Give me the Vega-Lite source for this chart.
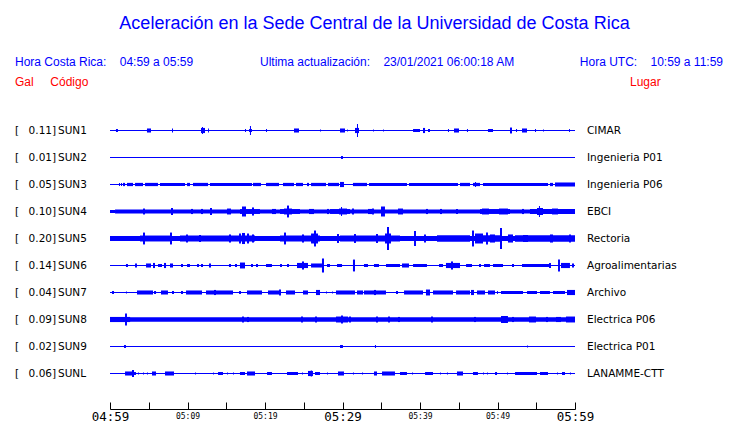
{
  "$schema": "https://vega.github.io/schema/vega-lite/v6.json",
  "width": 465,
  "height": 270,
  "autosize": {"type": "none"},
  "padding": {"left": 110, "top": 117, "right": 165, "bottom": 36},
  "background": "white",
  "config": {"view": {"stroke": null}},
  "title": {
    "text": "Aceleración en la Sede Central de la Universidad de Costa Rica",
    "font": "Liberation Sans", "fontSize": 18, "fontWeight": "normal", "color": "#0000ff",
    "anchor": "middle", "frame": "group", "dx": 32, "offset": 22
  },
  "datasets": {
    "meta": [
      {"s": "SUN1", "gal": 0.11, "lugar": "CIMAR"},
      {"s": "SUN2", "gal": 0.01, "lugar": "Ingenieria P01"},
      {"s": "SUN3", "gal": 0.05, "lugar": "Ingenieria P06"},
      {"s": "SUN4", "gal": 0.10, "lugar": "EBCI"},
      {"s": "SUN5", "gal": 0.20, "lugar": "Rectoria"},
      {"s": "SUN6", "gal": 0.14, "lugar": "Agroalimentarias"},
      {"s": "SUN7", "gal": 0.04, "lugar": "Archivo"},
      {"s": "SUN8", "gal": 0.09, "lugar": "Electrica P06"},
      {"s": "SUN9", "gal": 0.02, "lugar": "Electrica P01"},
      {"s": "SUNL", "gal": 0.06, "lugar": "LANAMME-CTT"}
    ],
    "bursts": [
      {"s":"SUN1","t1":0.77,"t2":1.03,"a":0.11},
      {"s":"SUN1","t1":4.77,"t2":5.29,"a":0.15},
      {"s":"SUN1","t1":8.0,"t2":8.13,"a":0.15},
      {"s":"SUN1","t1":11.74,"t2":12.26,"a":0.19},
      {"s":"SUN1","t1":11.87,"t2":12.0,"a":0.26},
      {"s":"SUN1","t1":12.65,"t2":12.77,"a":0.15},
      {"s":"SUN1","t1":17.42,"t2":17.55,"a":0.11},
      {"s":"SUN1","t1":17.94,"t2":18.32,"a":0.11},
      {"s":"SUN1","t1":18.06,"t2":18.19,"a":0.33},
      {"s":"SUN1","t1":20.13,"t2":20.26,"a":0.11},
      {"s":"SUN1","t1":23.74,"t2":24.39,"a":0.15},
      {"s":"SUN1","t1":27.1,"t2":27.23,"a":0.07},
      {"s":"SUN1","t1":29.68,"t2":30.32,"a":0.15},
      {"s":"SUN1","t1":30.58,"t2":30.71,"a":0.07},
      {"s":"SUN1","t1":31.61,"t2":32.13,"a":0.19},
      {"s":"SUN1","t1":31.87,"t2":32.0,"a":0.48},
      {"s":"SUN1","t1":33.94,"t2":34.06,"a":0.07},
      {"s":"SUN1","t1":35.23,"t2":35.35,"a":0.07},
      {"s":"SUN1","t1":39.1,"t2":40.0,"a":0.11},
      {"s":"SUN1","t1":40.39,"t2":40.65,"a":0.19},
      {"s":"SUN1","t1":41.03,"t2":41.29,"a":0.11},
      {"s":"SUN1","t1":43.61,"t2":43.74,"a":0.11},
      {"s":"SUN1","t1":44.39,"t2":45.03,"a":0.15},
      {"s":"SUN1","t1":46.06,"t2":46.19,"a":0.11},
      {"s":"SUN1","t1":48.77,"t2":49.42,"a":0.11},
      {"s":"SUN1","t1":51.61,"t2":51.87,"a":0.22},
      {"s":"SUN1","t1":52.39,"t2":52.52,"a":0.11},
      {"s":"SUN1","t1":53.16,"t2":53.81,"a":0.15},
      {"s":"SUN1","t1":54.84,"t2":54.97,"a":0.11},
      {"s":"SUN1","t1":55.87,"t2":56.0,"a":0.07},
      {"s":"SUN1","t1":59.23,"t2":59.35,"a":0.11},
      {"s":"SUN2","t1":29.81,"t2":30.06,"a":0.11},
      {"s":"SUN3","t1":1.16,"t2":1.29,"a":0.12},
      {"s":"SUN3","t1":1.42,"t2":1.55,"a":0.12},
      {"s":"SUN3","t1":1.68,"t2":1.94,"a":0.12},
      {"s":"SUN3","t1":2.19,"t2":2.97,"a":0.12},
      {"s":"SUN3","t1":3.23,"t2":4.26,"a":0.12},
      {"s":"SUN3","t1":4.52,"t2":6.19,"a":0.12},
      {"s":"SUN3","t1":6.45,"t2":9.68,"a":0.12},
      {"s":"SUN3","t1":9.94,"t2":10.32,"a":0.12},
      {"s":"SUN3","t1":10.71,"t2":12.65,"a":0.12},
      {"s":"SUN3","t1":12.9,"t2":18.32,"a":0.12},
      {"s":"SUN3","t1":18.45,"t2":19.48,"a":0.12},
      {"s":"SUN3","t1":20.13,"t2":21.81,"a":0.12},
      {"s":"SUN3","t1":22.32,"t2":23.74,"a":0.12},
      {"s":"SUN3","t1":24.0,"t2":24.9,"a":0.12},
      {"s":"SUN3","t1":25.42,"t2":25.68,"a":0.12},
      {"s":"SUN3","t1":25.94,"t2":27.87,"a":0.12},
      {"s":"SUN3","t1":28.13,"t2":29.55,"a":0.12},
      {"s":"SUN3","t1":29.68,"t2":30.19,"a":0.19},
      {"s":"SUN3","t1":31.35,"t2":33.16,"a":0.12},
      {"s":"SUN3","t1":33.42,"t2":38.32,"a":0.12},
      {"s":"SUN3","t1":38.58,"t2":44.9,"a":0.12},
      {"s":"SUN3","t1":45.16,"t2":46.45,"a":0.12},
      {"s":"SUN3","t1":46.84,"t2":47.74,"a":0.12},
      {"s":"SUN3","t1":47.1,"t2":47.23,"a":0.19},
      {"s":"SUN3","t1":48.13,"t2":56.52,"a":0.12},
      {"s":"SUN3","t1":56.77,"t2":57.16,"a":0.12},
      {"s":"SUN3","t1":57.42,"t2":60,"a":0.15},
      {"s":"SUN4","t1":0,"t2":0.65,"a":0.11},
      {"s":"SUN4","t1":0.65,"t2":60,"a":0.15},
      {"s":"SUN4","t1":16.77,"t2":19.35,"a":0.18},
      {"s":"SUN4","t1":21.94,"t2":24.52,"a":0.18},
      {"s":"SUN4","t1":28.39,"t2":30.97,"a":0.18},
      {"s":"SUN4","t1":47.74,"t2":51.61,"a":0.18},
      {"s":"SUN4","t1":54.19,"t2":60,"a":0.18},
      {"s":"SUN4","t1":4.26,"t2":4.52,"a":0.22},
      {"s":"SUN4","t1":7.87,"t2":8.13,"a":0.26},
      {"s":"SUN4","t1":10.45,"t2":10.71,"a":0.19},
      {"s":"SUN4","t1":11.74,"t2":12.0,"a":0.19},
      {"s":"SUN4","t1":12.9,"t2":13.16,"a":0.26},
      {"s":"SUN4","t1":15.1,"t2":15.61,"a":0.22},
      {"s":"SUN4","t1":17.03,"t2":17.55,"a":0.37},
      {"s":"SUN4","t1":18.32,"t2":18.58,"a":0.3},
      {"s":"SUN4","t1":20.9,"t2":21.42,"a":0.19},
      {"s":"SUN4","t1":22.45,"t2":23.48,"a":0.22},
      {"s":"SUN4","t1":22.84,"t2":23.1,"a":0.44},
      {"s":"SUN4","t1":25.68,"t2":26.32,"a":0.19},
      {"s":"SUN4","t1":28.0,"t2":28.26,"a":0.19},
      {"s":"SUN4","t1":29.55,"t2":30.58,"a":0.22},
      {"s":"SUN4","t1":29.81,"t2":29.94,"a":0.33},
      {"s":"SUN4","t1":31.23,"t2":31.48,"a":0.22},
      {"s":"SUN4","t1":33.29,"t2":33.81,"a":0.19},
      {"s":"SUN4","t1":33.81,"t2":34.06,"a":0.22},
      {"s":"SUN4","t1":34.97,"t2":35.48,"a":0.37},
      {"s":"SUN4","t1":37.16,"t2":37.81,"a":0.22},
      {"s":"SUN4","t1":40.77,"t2":41.03,"a":0.19},
      {"s":"SUN4","t1":42.58,"t2":42.84,"a":0.19},
      {"s":"SUN4","t1":44.65,"t2":44.9,"a":0.19},
      {"s":"SUN4","t1":48.0,"t2":48.9,"a":0.22},
      {"s":"SUN4","t1":50.19,"t2":51.35,"a":0.22},
      {"s":"SUN4","t1":53.16,"t2":53.42,"a":0.19},
      {"s":"SUN4","t1":55.1,"t2":55.87,"a":0.26},
      {"s":"SUN4","t1":55.35,"t2":55.48,"a":0.41},
      {"s":"SUN4","t1":57.03,"t2":57.81,"a":0.22},
      {"s":"SUN4","t1":59.23,"t2":59.48,"a":0.19},
      {"s":"SUN5","t1":0,"t2":60,"a":0.18},
      {"s":"SUN5","t1":3.87,"t2":7.74,"a":0.22},
      {"s":"SUN5","t1":9.03,"t2":18.71,"a":0.22},
      {"s":"SUN5","t1":21.94,"t2":27.1,"a":0.22},
      {"s":"SUN5","t1":29.68,"t2":37.42,"a":0.22},
      {"s":"SUN5","t1":42.19,"t2":46.45,"a":0.24},
      {"s":"SUN5","t1":47.1,"t2":50.32,"a":0.24},
      {"s":"SUN5","t1":52.26,"t2":60,"a":0.24},
      {"s":"SUN5","t1":4.26,"t2":4.52,"a":0.44},
      {"s":"SUN5","t1":7.74,"t2":8.0,"a":0.44},
      {"s":"SUN5","t1":9.81,"t2":10.06,"a":0.3},
      {"s":"SUN5","t1":11.48,"t2":11.74,"a":0.26},
      {"s":"SUN5","t1":15.35,"t2":15.61,"a":0.3},
      {"s":"SUN5","t1":16.65,"t2":16.9,"a":0.37},
      {"s":"SUN5","t1":17.03,"t2":17.42,"a":0.41},
      {"s":"SUN5","t1":17.68,"t2":17.94,"a":0.37},
      {"s":"SUN5","t1":18.32,"t2":18.58,"a":0.3},
      {"s":"SUN5","t1":22.45,"t2":22.71,"a":0.44},
      {"s":"SUN5","t1":24.77,"t2":25.03,"a":0.3},
      {"s":"SUN5","t1":25.94,"t2":26.84,"a":0.37},
      {"s":"SUN5","t1":26.32,"t2":26.58,"a":0.59},
      {"s":"SUN5","t1":29.29,"t2":29.55,"a":0.33},
      {"s":"SUN5","t1":31.48,"t2":31.74,"a":0.33},
      {"s":"SUN5","t1":34.32,"t2":34.58,"a":0.33},
      {"s":"SUN5","t1":35.48,"t2":36.26,"a":0.37},
      {"s":"SUN5","t1":35.74,"t2":36.0,"a":0.85},
      {"s":"SUN5","t1":39.23,"t2":39.48,"a":0.56},
      {"s":"SUN5","t1":40.52,"t2":40.77,"a":0.3},
      {"s":"SUN5","t1":46.71,"t2":46.97,"a":0.59},
      {"s":"SUN5","t1":47.1,"t2":48.13,"a":0.37},
      {"s":"SUN5","t1":48.52,"t2":48.77,"a":0.44},
      {"s":"SUN5","t1":49.03,"t2":49.68,"a":0.3},
      {"s":"SUN5","t1":50.32,"t2":50.58,"a":0.78},
      {"s":"SUN5","t1":51.35,"t2":52.0,"a":0.3},
      {"s":"SUN5","t1":53.29,"t2":53.94,"a":0.26},
      {"s":"SUN5","t1":56.77,"t2":57.16,"a":0.3},
      {"s":"SUN5","t1":59.23,"t2":59.48,"a":0.3},
      {"s":"SUN6","t1":2.06,"t2":2.32,"a":0.11},
      {"s":"SUN6","t1":3.23,"t2":3.48,"a":0.15},
      {"s":"SUN6","t1":4.65,"t2":5.29,"a":0.15},
      {"s":"SUN6","t1":5.55,"t2":5.81,"a":0.19},
      {"s":"SUN6","t1":6.19,"t2":6.71,"a":0.11},
      {"s":"SUN6","t1":6.97,"t2":7.23,"a":0.19},
      {"s":"SUN6","t1":7.74,"t2":8.13,"a":0.15},
      {"s":"SUN6","t1":9.16,"t2":9.42,"a":0.11},
      {"s":"SUN6","t1":9.94,"t2":10.32,"a":0.11},
      {"s":"SUN6","t1":11.23,"t2":11.48,"a":0.11},
      {"s":"SUN6","t1":11.74,"t2":12.0,"a":0.11},
      {"s":"SUN6","t1":12.77,"t2":13.03,"a":0.15},
      {"s":"SUN6","t1":15.35,"t2":15.61,"a":0.11},
      {"s":"SUN6","t1":16.13,"t2":16.39,"a":0.11},
      {"s":"SUN6","t1":16.77,"t2":17.42,"a":0.22},
      {"s":"SUN6","t1":18.19,"t2":18.45,"a":0.11},
      {"s":"SUN6","t1":18.84,"t2":19.1,"a":0.11},
      {"s":"SUN6","t1":20.13,"t2":20.9,"a":0.11},
      {"s":"SUN6","t1":21.94,"t2":22.19,"a":0.11},
      {"s":"SUN6","t1":22.84,"t2":23.1,"a":0.11},
      {"s":"SUN6","t1":24.13,"t2":25.55,"a":0.19},
      {"s":"SUN6","t1":24.77,"t2":25.03,"a":0.3},
      {"s":"SUN6","t1":25.94,"t2":27.35,"a":0.15},
      {"s":"SUN6","t1":27.35,"t2":27.61,"a":0.52},
      {"s":"SUN6","t1":28.0,"t2":28.39,"a":0.11},
      {"s":"SUN6","t1":29.29,"t2":29.94,"a":0.11},
      {"s":"SUN6","t1":31.35,"t2":31.61,"a":0.44},
      {"s":"SUN6","t1":32.77,"t2":33.29,"a":0.11},
      {"s":"SUN6","t1":34.06,"t2":34.71,"a":0.11},
      {"s":"SUN6","t1":35.61,"t2":37.42,"a":0.11},
      {"s":"SUN6","t1":37.68,"t2":38.58,"a":0.15},
      {"s":"SUN6","t1":39.1,"t2":40.9,"a":0.11},
      {"s":"SUN6","t1":42.45,"t2":42.97,"a":0.11},
      {"s":"SUN6","t1":43.35,"t2":45.16,"a":0.19},
      {"s":"SUN6","t1":44.0,"t2":44.26,"a":0.3},
      {"s":"SUN6","t1":45.94,"t2":46.71,"a":0.11},
      {"s":"SUN6","t1":47.61,"t2":47.87,"a":0.11},
      {"s":"SUN6","t1":48.26,"t2":49.03,"a":0.11},
      {"s":"SUN6","t1":49.42,"t2":50.71,"a":0.11},
      {"s":"SUN6","t1":51.87,"t2":52.13,"a":0.11},
      {"s":"SUN6","t1":53.16,"t2":56.77,"a":0.11},
      {"s":"SUN6","t1":56.65,"t2":56.9,"a":0.19},
      {"s":"SUN6","t1":57.81,"t2":58.06,"a":0.44},
      {"s":"SUN6","t1":58.19,"t2":59.35,"a":0.19},
      {"s":"SUN6","t1":59.61,"t2":59.87,"a":0.15},
      {"s":"SUN7","t1":0.26,"t2":0.52,"a":0.11},
      {"s":"SUN7","t1":2.06,"t2":2.19,"a":0.07},
      {"s":"SUN7","t1":3.48,"t2":5.55,"a":0.15},
      {"s":"SUN7","t1":5.68,"t2":5.94,"a":0.11},
      {"s":"SUN7","t1":6.58,"t2":7.48,"a":0.15},
      {"s":"SUN7","t1":8.0,"t2":8.26,"a":0.11},
      {"s":"SUN7","t1":9.16,"t2":9.42,"a":0.11},
      {"s":"SUN7","t1":9.81,"t2":11.87,"a":0.15},
      {"s":"SUN7","t1":12.39,"t2":15.87,"a":0.15},
      {"s":"SUN7","t1":13.42,"t2":13.68,"a":0.19},
      {"s":"SUN7","t1":16.65,"t2":16.9,"a":0.11},
      {"s":"SUN7","t1":17.68,"t2":19.61,"a":0.15},
      {"s":"SUN7","t1":20.39,"t2":22.06,"a":0.15},
      {"s":"SUN7","t1":21.81,"t2":22.06,"a":0.22},
      {"s":"SUN7","t1":22.71,"t2":23.87,"a":0.15},
      {"s":"SUN7","t1":24.9,"t2":25.55,"a":0.15},
      {"s":"SUN7","t1":26.58,"t2":27.1,"a":0.19},
      {"s":"SUN7","t1":27.87,"t2":28.0,"a":0.07},
      {"s":"SUN7","t1":28.65,"t2":28.77,"a":0.07},
      {"s":"SUN7","t1":29.16,"t2":31.61,"a":0.15},
      {"s":"SUN7","t1":31.87,"t2":32.65,"a":0.15},
      {"s":"SUN7","t1":32.77,"t2":35.61,"a":0.15},
      {"s":"SUN7","t1":34.06,"t2":34.32,"a":0.19},
      {"s":"SUN7","t1":36.9,"t2":37.16,"a":0.11},
      {"s":"SUN7","t1":37.94,"t2":40.39,"a":0.15},
      {"s":"SUN7","t1":40.77,"t2":41.29,"a":0.22},
      {"s":"SUN7","t1":41.68,"t2":44.26,"a":0.15},
      {"s":"SUN7","t1":44.65,"t2":46.45,"a":0.15},
      {"s":"SUN7","t1":46.58,"t2":46.97,"a":0.19},
      {"s":"SUN7","t1":47.35,"t2":48.39,"a":0.15},
      {"s":"SUN7","t1":48.77,"t2":49.68,"a":0.15},
      {"s":"SUN7","t1":49.94,"t2":50.06,"a":0.11},
      {"s":"SUN7","t1":50.45,"t2":53.29,"a":0.11},
      {"s":"SUN7","t1":53.81,"t2":55.1,"a":0.11},
      {"s":"SUN7","t1":55.48,"t2":56.77,"a":0.11},
      {"s":"SUN7","t1":57.16,"t2":58.71,"a":0.11},
      {"s":"SUN7","t1":58.97,"t2":60,"a":0.19},
      {"s":"SUN8","t1":0,"t2":60,"a":0.17},
      {"s":"SUN8","t1":0,"t2":2.6,"a":0.19},
      {"s":"SUN8","t1":1.94,"t2":2.19,"a":0.44},
      {"s":"SUN8","t1":17.03,"t2":17.29,"a":0.22},
      {"s":"SUN8","t1":17.68,"t2":17.94,"a":0.19},
      {"s":"SUN8","t1":24.65,"t2":24.9,"a":0.22},
      {"s":"SUN8","t1":26.45,"t2":26.71,"a":0.22},
      {"s":"SUN8","t1":29.16,"t2":30.71,"a":0.22},
      {"s":"SUN8","t1":29.81,"t2":30.06,"a":0.3},
      {"s":"SUN8","t1":30.84,"t2":31.1,"a":0.22},
      {"s":"SUN8","t1":34.32,"t2":34.58,"a":0.22},
      {"s":"SUN8","t1":35.87,"t2":36.13,"a":0.22},
      {"s":"SUN8","t1":37.16,"t2":37.42,"a":0.19},
      {"s":"SUN8","t1":41.42,"t2":41.68,"a":0.22},
      {"s":"SUN8","t1":46.97,"t2":47.23,"a":0.19},
      {"s":"SUN8","t1":50.45,"t2":51.35,"a":0.26},
      {"s":"SUN8","t1":51.87,"t2":52.13,"a":0.19},
      {"s":"SUN8","t1":54.06,"t2":54.97,"a":0.22},
      {"s":"SUN8","t1":56.26,"t2":56.52,"a":0.19},
      {"s":"SUN8","t1":57.55,"t2":58.19,"a":0.19},
      {"s":"SUN8","t1":58.84,"t2":60,"a":0.22},
      {"s":"SUN9","t1":1.81,"t2":2.06,"a":0.11},
      {"s":"SUN9","t1":29.68,"t2":30.06,"a":0.11},
      {"s":"SUN9","t1":34.19,"t2":34.32,"a":0.11},
      {"s":"SUN9","t1":53.81,"t2":53.94,"a":0.07},
      {"s":"SUNL","t1":1.94,"t2":2.97,"a":0.15},
      {"s":"SUNL","t1":2.84,"t2":3.1,"a":0.26},
      {"s":"SUNL","t1":3.1,"t2":3.35,"a":0.11},
      {"s":"SUNL","t1":3.61,"t2":3.74,"a":0.07},
      {"s":"SUNL","t1":4.26,"t2":4.39,"a":0.07},
      {"s":"SUNL","t1":4.77,"t2":4.9,"a":0.07},
      {"s":"SUNL","t1":5.42,"t2":5.94,"a":0.15},
      {"s":"SUNL","t1":7.1,"t2":8.26,"a":0.15},
      {"s":"SUNL","t1":10.97,"t2":11.1,"a":0.07},
      {"s":"SUNL","t1":13.29,"t2":13.42,"a":0.07},
      {"s":"SUNL","t1":13.94,"t2":14.58,"a":0.11},
      {"s":"SUNL","t1":15.1,"t2":15.23,"a":0.07},
      {"s":"SUNL","t1":15.87,"t2":16.0,"a":0.07},
      {"s":"SUNL","t1":16.77,"t2":17.42,"a":0.11},
      {"s":"SUNL","t1":17.68,"t2":18.71,"a":0.15},
      {"s":"SUNL","t1":20.26,"t2":20.9,"a":0.11},
      {"s":"SUNL","t1":22.84,"t2":24.26,"a":0.11},
      {"s":"SUNL","t1":24.77,"t2":24.9,"a":0.07},
      {"s":"SUNL","t1":25.55,"t2":26.19,"a":0.19},
      {"s":"SUNL","t1":25.9,"t2":26.06,"a":0.22},
      {"s":"SUNL","t1":26.45,"t2":27.1,"a":0.11},
      {"s":"SUNL","t1":28.0,"t2":28.13,"a":0.07},
      {"s":"SUNL","t1":29.42,"t2":30.19,"a":0.15},
      {"s":"SUNL","t1":31.35,"t2":31.48,"a":0.07},
      {"s":"SUNL","t1":32.52,"t2":32.65,"a":0.07},
      {"s":"SUNL","t1":34.06,"t2":34.45,"a":0.15},
      {"s":"SUNL","t1":35.1,"t2":36.77,"a":0.15},
      {"s":"SUNL","t1":37.42,"t2":38.32,"a":0.11},
      {"s":"SUNL","t1":38.97,"t2":39.1,"a":0.07},
      {"s":"SUNL","t1":40.65,"t2":41.68,"a":0.11},
      {"s":"SUNL","t1":42.58,"t2":42.71,"a":0.07},
      {"s":"SUNL","t1":43.48,"t2":43.61,"a":0.07},
      {"s":"SUNL","t1":44.77,"t2":45.55,"a":0.15},
      {"s":"SUNL","t1":46.84,"t2":47.48,"a":0.11},
      {"s":"SUNL","t1":48.13,"t2":48.26,"a":0.07},
      {"s":"SUNL","t1":48.65,"t2":48.77,"a":0.07},
      {"s":"SUNL","t1":49.68,"t2":49.94,"a":0.11},
      {"s":"SUNL","t1":51.23,"t2":51.35,"a":0.07},
      {"s":"SUNL","t1":52.26,"t2":55.1,"a":0.11},
      {"s":"SUNL","t1":55.48,"t2":56.52,"a":0.11},
      {"s":"SUNL","t1":57.68,"t2":57.81,"a":0.07},
      {"s":"SUNL","t1":58.32,"t2":58.71,"a":0.11},
      {"s":"SUNL","t1":59.35,"t2":59.48,"a":0.07}
    ]
  },
  "layer": [
    {
      "data": {"name": "bursts"},
      "mark": {"type": "bar", "orient": "horizontal", "color": "#0000ff", "opacity": 1},
      "encoding": {
        "x": {
          "field": "t1", "type": "quantitative",
          "scale": {"domain": [0, 60], "nice": false, "zero": false},
          "axis": {
            "orient": "bottom", "offset": 22, "grid": false,
            "values": [0, 5, 10, 15, 20, 25, 30, 35, 40, 45, 50, 55, 60],
            "tickSize": -7, "tickColor": "#000000", "tickWidth": 1,
            "domainColor": "#000000", "domainWidth": 1,
            "labelExpr": "datum.value % 10 === 0 ? '0' + floor((59 + datum.value) / 60 + 4) + ':' + (((59 + datum.value) % 60) < 10 ? '0' : '') + ((59 + datum.value) % 60) : ''",
            "labelFont": "DejaVu Sans Mono",
            "labelFontSize": {"condition": {"test": "datum.value % 30 === 0", "value": 12.5}, "value": 8},
            "labelColor": "#000000", "labelBaseline": "middle", "labelPadding": 14,
            "labelFlush": false, "labelOverlap": false,
            "title": "Hora Costa Rica:\u00a0\u00a0\u00a0\u00a004:59 a 05:59",
            "titleX": -95.5, "titleY": -344, "titleAlign": "left", "titleBaseline": "alphabetic",
            "titleFont": "Liberation Sans", "titleFontSize": 12, "titleFontWeight": "normal", "titleColor": "#0000ff"
          }
        },
        "x2": {"field": "t2"},
        "y": {
          "field": "s", "type": "nominal",
          "scale": {"domain": ["SUN1","SUN2","SUN3","SUN4","SUN5","SUN6","SUN7","SUN8","SUN9","SUNL"], "paddingInner": 0, "paddingOuter": 0},
          "axis": {
            "orient": "left", "labels": false, "ticks": false, "domain": false, "grid": false,
            "title": "Gal\u00a0\u00a0\u00a0\u00a0\u00a0Código",
            "titleX": -95.5, "titleY": -32, "titleAngle": 0, "titleAlign": "left", "titleBaseline": "alphabetic",
            "titleFont": "Liberation Sans", "titleFontSize": 12, "titleFontWeight": "normal", "titleColor": "#ff0000"
          }
        },
        "size": {"field": "a", "type": "quantitative", "scale": {"domain": [0, 1], "range": [0, 27]}, "legend": null}
      }
    },
    {
      "data": {"name": "meta"},
      "mark": {"type": "rule", "color": "#0000ff", "strokeWidth": 1},
      "encoding": {
        "x": {
          "datum": 0, "type": "quantitative",
          "axis": {
            "orient": "top", "labels": false, "ticks": false, "domain": false, "grid": false,
            "title": "Hora UTC:\u00a0\u00a0\u00a0\u00a010:59 a 11:59",
            "titleX": 612.5, "titleY": -52, "titleAlign": "right", "titleBaseline": "alphabetic",
            "titleFont": "Liberation Sans", "titleFontSize": 12, "titleFontWeight": "normal", "titleColor": "#0000ff"
          }
        },
        "x2": {"datum": 60},
        "y": {
          "field": "s", "type": "nominal", "bandPosition": 0.5,
          "axis": {
            "orient": "right", "labels": false, "ticks": false, "domain": false, "grid": false,
            "title": "Lugar",
            "titleX": 54.5, "titleY": -32, "titleAngle": 0, "titleAlign": "left", "titleBaseline": "alphabetic",
            "titleFont": "Liberation Sans", "titleFontSize": 12, "titleFontWeight": "normal", "titleColor": "#ff0000"
          }
        }
      }
    },
    {
      "data": {"name": "meta"},
      "mark": {"type": "text", "align": "left", "baseline": "middle", "dx": -95, "font": "DejaVu Sans", "fontSize": 10.5, "color": "#000000"},
      "encoding": {
        "x": {
          "datum": 0, "type": "quantitative",
          "axis": {
            "orient": "top", "labels": false, "ticks": false, "domain": false, "grid": false,
            "title": "Ultima actualización:\u00a0\u00a0\u00a0\u00a023/01/2021 06:00:18 AM",
            "titleX": 149.5, "titleY": -52, "titleAlign": "left", "titleBaseline": "alphabetic",
            "titleFont": "Liberation Sans", "titleFontSize": 12, "titleFontWeight": "normal", "titleColor": "#0000ff"
          }
        },
        "y": {"field": "s", "type": "nominal", "bandPosition": 0.5, "axis": null},
        "text": {"value": "["}
      }
    },
    {
      "data": {"name": "meta"},
      "mark": {"type": "text", "align": "right", "baseline": "middle", "dx": -58, "font": "DejaVu Sans", "fontSize": 10.5, "color": "#000000"},
      "encoding": {
        "x": {"datum": 0, "type": "quantitative", "axis": null},
        "y": {"field": "s", "type": "nominal", "bandPosition": 0.5, "axis": null},
        "text": {"field": "gal", "type": "quantitative", "format": ".2f"}
      }
    },
    {
      "data": {"name": "meta"},
      "mark": {"type": "text", "align": "left", "baseline": "middle", "dx": -58, "font": "DejaVu Sans", "fontSize": 10.5, "color": "#000000"},
      "encoding": {
        "x": {"datum": 0, "type": "quantitative", "axis": null},
        "y": {"field": "s", "type": "nominal", "bandPosition": 0.5, "axis": null},
        "text": {"value": "]"}
      }
    },
    {
      "data": {"name": "meta"},
      "mark": {"type": "text", "align": "left", "baseline": "middle", "dx": -52, "font": "DejaVu Sans", "fontSize": 10.5, "color": "#000000"},
      "encoding": {
        "x": {"datum": 0, "type": "quantitative", "axis": null},
        "y": {"field": "s", "type": "nominal", "bandPosition": 0.5, "axis": null},
        "text": {"field": "s", "type": "nominal"}
      }
    },
    {
      "data": {"name": "meta"},
      "mark": {"type": "text", "align": "left", "baseline": "middle", "dx": 12, "font": "DejaVu Sans", "fontSize": 10.5, "color": "#000000"},
      "encoding": {
        "x": {"datum": 60, "type": "quantitative", "axis": null},
        "y": {"field": "s", "type": "nominal", "bandPosition": 0.5, "axis": null},
        "text": {"field": "lugar", "type": "nominal"}
      }
    }
  ],
  "resolve": {"axis": {"x": "independent", "y": "independent"}}
}
